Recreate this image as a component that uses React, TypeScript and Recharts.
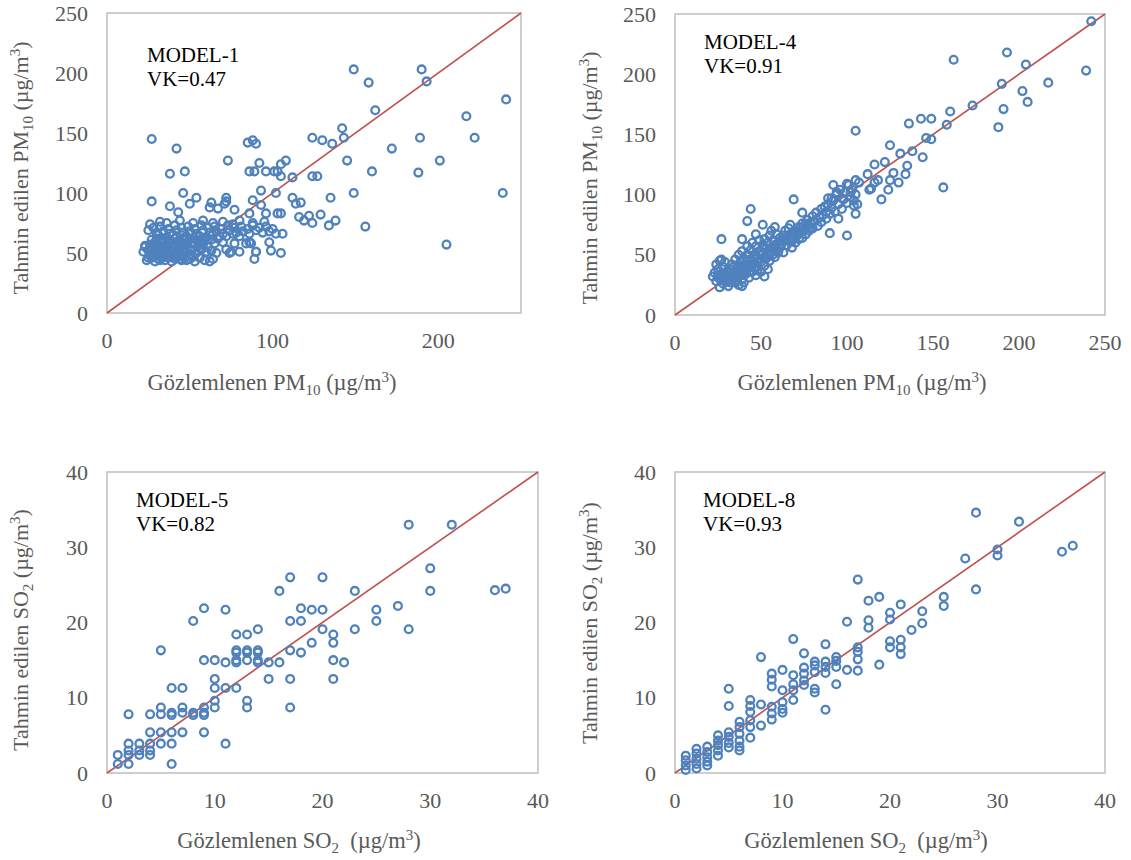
import React from "react";
import { ScatterChart, Scatter, XAxis, YAxis, ReferenceLine, ReferenceArea } from "recharts";

// ---------- DATA ----------
// [observed, predicted]
const model1Points: [number, number][] = [
  [149,203],[190,203],[193,193],[158,192],[162,169],[241,178],[217,164],[142,154],[143,146],[124,146],
  [130,144],[136,141],[189,146],[222,146],[172,137],[27,145],[42,137],[85,142],[88,144],[90,141],
  [73,127],[145,127],[201,127],[92,125],[108,127],[105,124],[38,116],[47,118],[86,118],[89,118],
  [96,118],[101,118],[103,118],[105,114],[112,113],[124,114],[127,114],[160,118],[188,117],[205,57],
  [239,100],[149,100],[156,72],[93,102],[102,100],[46,100],[27,93],[135,96],[112,96],[114,91],
  [117,92],[122,81],[129,82],[116,80],[119,77],[124,75],[134,73],[138,77],[105,83],[106,66],
  [98,59],[99,52],[105,50],[90,51],[89,45],[88,94],[93,90],[72,96],[72,93],[54,96],
  [50,91],[38,89],[43,84],[77,86],[63,92],[62,88],[67,87],[86,83],[96,83],[103,83],[71,91],
  [30,67],[34,68],[38,66],[42,69],[46,67],[50,68],[54,66],[58,69],[62,67],[66,68],[70,66],[74,69],
  [78,67],[82,68],[86,66],[90,69],[94,67],[98,68],[102,66],
  [28,71],[32,72],[37,70],[41,73],[45,71],[49,72],[53,70],[57,73],[61,71],[65,72],[69,70],[73,73],
  [77,71],[81,72],[85,70],[88,73],[92,71],[96,72],[100,70],
  [26,74],[32,76],[36,75],[44,77],[52,75],[58,77],[64,75],[70,76],[76,74],[80,77],[88,75],[95,76],
  [24,44],[27,46],[29,43],[31,45],[33,47],[35,44],[37,46],[39,43],[41,45],[43,47],[45,44],[47,46],
  [50,45],[53,43],[56,46],[59,44],[62,43],[64,45],
  [22,51],[25,52],[28,50],[30,53],[32,51],[34,52],[36,50],[38,53],[40,51],[42,52],[44,50],[46,53],
  [48,51],[51,52],[54,50],[57,53],[60,51],[63,52],[66,50],
  [23,56],[26,57],[29,55],[31,58],[34,56],[36,57],[39,55],[41,58],[44,56],[47,57],[49,55],[52,58],
  [55,56],[58,57],[61,55],[65,58],
  [27,61],[30,62],[33,60],[36,63],[38,61],[41,62],[44,60],[47,63],[50,61],[53,62],[57,60],[60,63],
  [63,61],[67,62],[23,55],[25,69],
  [72,53],[74,50],[80,51],[77,58],[84,58],[87,58],[70,59],[75,51],[86,59],[90,51],
  [26,48],[30,48],[34,49],[38,48],[42,49],[46,48],[50,49],[33,54],[40,54],[47,54],[56,54],
  [29,59],[35,60],[43,59],[52,59],[59,60],[31,65],[40,65],[48,64],[56,64],[64,65],[72,64],[80,64],
  [25,46],[28,47],[32,44],[36,47],[40,47],[44,45],[48,44],[52,47],[27,54],[31,52],[35,55],
  [39,52],[43,54],[45,57],[37,59],[33,62],[42,64],[46,61],[54,64],[58,62],[68,64],[76,66]
];

const model4Points: [number, number][] = [
  [242,244],[193,218],[162,212],[204,208],[239,203],[217,193],[190,192],[202,186],[205,177],[191,171],
  [173,174],[160,169],[158,158],[188,156],[136,159],[143,163],[149,163],[146,147],[149,146],[105,153],
  [125,141],[131,134],[138,136],[144,131],[156,106],[116,125],[122,127],[135,124],[134,117],[127,118],
  [125,112],[130,110],[124,104],[120,96],[112,117],[118,112],[113,104],[114,105],[116,110],[105,112],
  [107,110],[100,109],[102,102],[106,92],[105,84],[69,96],[100,66],[44,88],[42,78],[51,75],
  [58,73],[74,85],[27,63],[39,63],[47,67],[27,46],[26,23],[22,32],[39,24],[52,32],
  [54,38],[90,68],[104,91],[92,108],[94,102],[97,97],[91,97],[89,92],
  [23,35],[24,28],[25,38],[26,30],[27,34],[28,26],[28,40],[29,31],[30,36],[30,28],[24,42],[26,45],[29,44],
  [31,24],[31,33],[32,38],[33,29],[33,42],[34,35],[35,27],[35,46],[36,32],[36,40],[37,25],[37,50],
  [38,36],[38,44],[39,30],[39,53],[40,38],[40,47],[40,27],
  [41,34],[41,42],[42,50],[42,57],[43,31],[43,39],[44,46],[44,54],[45,36],[45,60],[46,43],[46,50],
  [47,33],[47,57],[48,40],[48,47],[49,53],[49,62],[50,44],[50,36],
  [51,50],[51,58],[52,41],[52,63],[53,47],[53,55],[54,52],[54,60],[55,45],[55,66],[56,56],[57,50],
  [57,62],[58,48],[58,58],[59,54],[59,67],[60,60],[60,52],[56,70],
  [61,56],[61,64],[62,59],[63,66],[63,52],[64,62],[64,70],[65,58],[66,65],[66,72],[67,61],[68,68],
  [68,56],[69,63],[70,70],[70,60],[67,75],
  [71,66],[72,73],[72,63],[73,69],[74,76],[74,64],[75,71],[76,67],[77,74],[77,79],[78,70],[79,76],
  [80,72],[80,82],
  [81,78],[82,85],[83,74],[84,81],[85,88],[85,77],[86,83],[87,90],[88,80],[88,86],[89,97],[90,84],
  [91,89],[92,95],[93,86],[94,100],[95,92],[96,104],[97,88],[98,96],[99,102],[100,93],[101,108],
  [102,98],[103,104],[104,95],[105,100],[95,80],
  [25,33],[27,29],[32,35],[34,31],[36,36],[38,33],[42,38],[44,42],[46,39],[48,44],[52,47],[56,52],
  [30,32],[32,27],[34,40],[36,29],[38,40],[40,33],[42,45],[44,36],[46,47],[48,37],[50,50],[52,56],
  [55,50],[58,55],[62,62],[65,64],[69,66],[73,72],[76,76],[79,73]
];

const model5Points: [number, number][] = [
  [28,33],[32,33],[30,27.2],[30,24.2],[36,24.3],[37,24.5],[17,26],[20,26],[16,24.2],[23,24.2],
  [9,21.9],[11,21.7],[8,20.2],[18,21.9],[19,21.7],[20,21.7],[17,20.2],[18,20.2],[25,21.7],[25,20.2],
  [27,22.2],[28,19.1],[23,19.1],[20,19.1],[21,18.4],[21,17.3],[19,17.3],[14,19.1],[12,18.4],[13,18.4],
  [5,16.3],[12,16.3],[13,16.3],[14,16.3],[12,16],[13,16],[14,16],[17,16.3],[18,16],[9,15],
  [10,15],[11,14.7],[12,15],[12,14.7],[13,15],[14,15],[14,14.7],[15,14.7],[16,14.7],[21,15],
  [22,14.7],[15,12.5],[17,12.5],[21,12.5],[10,12.5],[10,11.3],[11,11.3],[12,11.3],[6,11.3],[7,11.3],
  [13,9.6],[13,8.7],[10,9.6],[10,8.7],[17,8.7],[5,8.7],[5,7.8],[6,8],[6,7.7],[7,8.7],
  [7,8],[8,8],[8,7.7],[9,8.7],[9,8],[9,7.7],[4,7.8],[2,7.8],[4,5.4],[5,5.4],
  [6,5.4],[7,5.4],[9,5.4],[2,3.9],[3,3.9],[4,3.9],[5,3.9],[6,3.9],[11,3.9],[1,2.4],
  [2,2.4],[3,2.4],[4,2.4],[1,1.2],[2,1.2],[6,1.2],[3,3],[4,3],[2,3]
];

const model8Points: [number, number][] = [
  [28,34.6],[32,33.4],[30,29.7],[30,28.9],[36,29.4],[37,30.2],[27,28.5],[28,24.4],[17,25.7],[25,23.4],
  [25,22.2],[18,22.9],[19,23.4],[21,22.4],[20,21.3],[20,20.4],[23,21.5],[23,19.9],[22,19],[18,20.3],
  [18,19.3],[16,20.1],[20,17.5],[20,16.7],[21,17.7],[21,16.7],[21,15.8],[17,16.7],[17,16.1],[17,15.1],
  [17,13.6],[19,14.4],[16,13.7],[15,15.4],[15,14.9],[15,14.1],[15,11.8],[14,17.1],[14,14.8],[14,14.1],
  [14,13.3],[14,8.4],[13,14.8],[13,14.3],[13,13.4],[13,11.2],[13,10.7],[12,15.9],[12,14],[12,13.2],
  [12,12.3],[12,11.7],[11,17.8],[11,13],[11,11.8],[11,11],[11,9.7],[10,13.7],[10,11],[10,9.4],
  [10,8.5],[10,8],[9,13.2],[9,12.4],[9,11.5],[9,8.8],[9,7.9],[9,7.1],[8,15.4],[8,9.1],
  [8,6.3],[7,9.7],[7,8.9],[7,8.1],[7,7],[7,6.1],[7,4.7],[6,6.8],[6,6.1],[6,5.2],
  [6,4.3],[6,3.5],[6,3],[5,11.2],[5,8.9],[5,5.4],[5,4.8],[5,4],[5,3.4],[4,5],
  [4,4.3],[4,3.7],[4,3],[4,2.3],[3,3.5],[3,2.8],[3,2.1],[3,1.5],[3,1],[2,3.2],
  [2,2.6],[2,1.9],[2,1.2],[2,0.6],[1,2.3],[1,1.7],[1,1],[1,0.4]
];

const pmTicksX1 = [0, 100, 200];
const pmTicksX4 = [0, 50, 100, 150, 200, 250];
const pmTicksY = [0, 50, 100, 150, 200, 250];
const so2Ticks = [0, 10, 20, 30, 40];

const toData = (pts: [number, number][]) => pts.map(([x, y]) => ({ x, y }));

// ---------- STYLE ----------
const FONT = "'Liberation Serif', 'Times New Roman', serif";
const BLUE = "#4f81bd";
const RED = "#c0504d";
const GREY_TEXT = "#595959";
const TICK_SIZE = 22;

const Marker = (props: any) => (
  <circle cx={props.cx} cy={props.cy} r={3.9} fill="none" stroke={BLUE} strokeWidth={2.3} />
);

const XTick = (props: any) => (
  <text x={props.x} y={props.y} dy={15} textAnchor="middle" fill={GREY_TEXT}
    style={{ fontFamily: FONT, fontSize: TICK_SIZE }}>
    {props.payload.value}
  </text>
);

const YTick = (props: any) => (
  <text x={props.x} y={props.y} dy={7.5} textAnchor="end" fill={GREY_TEXT}
    style={{ fontFamily: FONT, fontSize: TICK_SIZE }}>
    {props.payload.value}
  </text>
);

type PanelProps = {
  left: number; top: number; width: number; height: number;
  margin: { top: number; right: number; bottom: number; left: number };
  data: { x: number; y: number }[];
  max: number; xTicks: number[]; yTicks: number[];
};

const Panel = ({ left, top, width, height, margin, data, max, xTicks, yTicks }: PanelProps) => (
  <div style={{ position: "absolute", left, top }}>
    <ScatterChart width={width} height={height} margin={margin}>
      <XAxis type="number" dataKey="x" domain={[0, max]} ticks={xTicks} interval={0}
        axisLine={false} tickLine={false} tickSize={0} tickMargin={20} height={40} tick={<XTick />} />
      <YAxis type="number" dataKey="y" domain={[0, max]} ticks={yTicks} interval={0}
        axisLine={false} tickLine={false} tickSize={0} tickMargin={19} width={60} tick={<YTick />} />
      <ReferenceArea x1={0} x2={max} y1={0} y2={max} fill="none" fillOpacity={0}
        stroke="#bfbfbf" strokeWidth={1.5} strokeOpacity={1} />
      <ReferenceLine segment={[{ x: 0, y: 0 }, { x: max, y: max }]} stroke={RED} strokeWidth={1.6} />
      <Scatter data={data} shape={Marker} isAnimationActive={false} />
    </ScatterChart>
  </div>
);

const TitleText = ({ x, y, rotate, main, sub, gap, size }: { x: number; y: number; rotate?: boolean; main: string; sub: string; gap?: string; size: number }) => {
  const small = Math.round(size * 0.68);
  return (
    <text x={x} y={y} textAnchor="middle" fill={GREY_TEXT}
      style={{ fontFamily: FONT, fontSize: size, whiteSpace: "pre" }}
      transform={rotate ? `rotate(-90 ${x} ${y})` : undefined}>
      <tspan>{main}</tspan>
      <tspan style={{ fontSize: small }} dy={5}>{sub}</tspan>
      <tspan dy={-5}>{(gap ?? " ") + "(µg/m"}</tspan>
      <tspan style={{ fontSize: small }} dy={-8}>3</tspan>
      <tspan dy={8}>)</tspan>
    </text>
  );
};

const Note = ({ x, y, model, vk }: { x: number; y: number; model: string; vk: string }) => (
  <g>
    <text x={x} y={y} fill="#000" style={{ fontFamily: FONT, fontSize: 21 }}>{model}</text>
    <text x={x} y={y + 24} fill="#000" style={{ fontFamily: FONT, fontSize: 21 }}>{vk}</text>
  </g>
);

export default function App() {
  return (
    <div style={{ position: "absolute", left: 0, top: 0, width: 1131, height: 860, background: "#fff" }}>
      <Panel left={0} top={0} width={560} height={420}
        margin={{ top: 13, right: 39, bottom: 67, left: 47 }}
        data={toData(model1Points)} max={250} xTicks={pmTicksX1} yTicks={pmTicksY} />
      <Panel left={560} top={0} width={571} height={420}
        margin={{ top: 14, right: 26, bottom: 65, left: 55 }}
        data={toData(model4Points)} max={250} xTicks={pmTicksX4} yTicks={pmTicksY} />
      <Panel left={0} top={430} width={560} height={430}
        margin={{ top: 42, right: 22, bottom: 47, left: 47 }}
        data={toData(model5Points)} max={40} xTicks={so2Ticks} yTicks={so2Ticks} />
      <Panel left={560} top={430} width={571} height={430}
        margin={{ top: 42, right: 26, bottom: 47, left: 55 }}
        data={toData(model8Points)} max={40} xTicks={so2Ticks} yTicks={so2Ticks} />
      <svg width={1131} height={860} style={{ position: "absolute", left: 0, top: 0, pointerEvents: "none" }}>
        <TitleText size={22.5} x={272} y={390} main="Gözlemlenen PM" sub="10" />
        <TitleText size={22.5} x={862} y={390} main="Gözlemlenen PM" sub="10" />
        <TitleText size={22.5} x={299} y={848} main="Gözlemlenen SO" sub="2" gap="  " />
        <TitleText size={22.5} x={866} y={848} main="Gözlemlenen SO" sub="2" gap="  " />
        <TitleText size={22} x={28} y={168} rotate main="Tahmin edilen PM" sub="10" />
        <TitleText size={22} x={597} y={178} rotate main="Tahmin edilen PM" sub="10" />
        <TitleText size={22} x={28} y={630} rotate main="Tahmin edilen SO" sub="2" />
        <TitleText size={22} x={597} y={623} rotate main="Tahmin edilen SO" sub="2" />
        <Note x={147} y={62} model="MODEL-1" vk="VK=0.47" />
        <Note x={704} y={49} model="MODEL-4" vk="VK=0.91" />
        <Note x={136} y={507} model="MODEL-5" vk="VK=0.82" />
        <Note x={703} y={507} model="MODEL-8" vk="VK=0.93" />
      </svg>
    </div>
  );
}
